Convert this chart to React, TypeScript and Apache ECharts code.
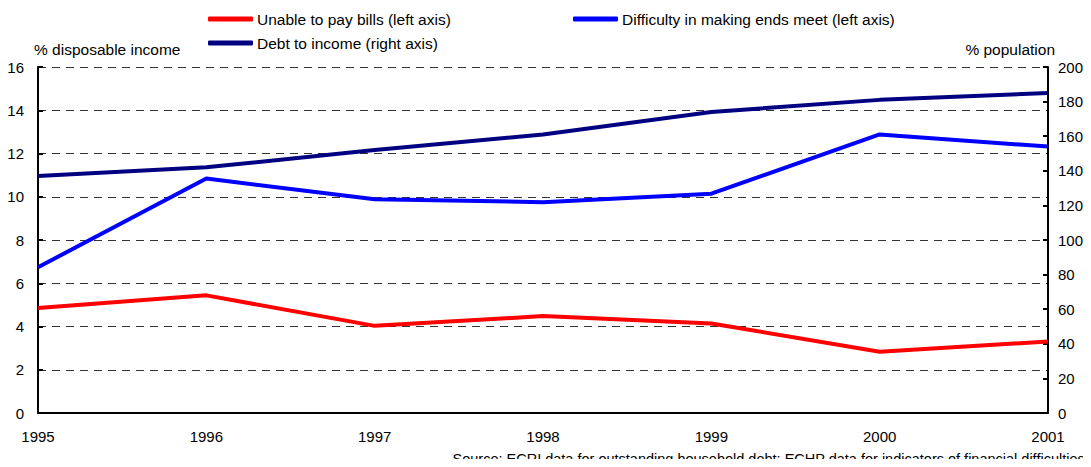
import React, { useEffect, useRef } from "react";
import * as echarts from "echarts";

const years = ["1995", "1996", "1997", "1998", "1999", "2000", "2001"];
const unablePayBills = [4.86, 5.44, 4.03, 4.48, 4.14, 2.83, 3.31];
const difficultyEndsMeet = [6.74, 10.84, 9.88, 9.75, 10.14, 12.88, 12.32];
const debtToIncome = [137, 142, 152, 161, 174, 181, 185];

const FONT = "'Liberation Sans', Arial, sans-serif";

export default function App() {
  const ref = useRef<HTMLDivElement>(null);
  useEffect(() => {
    if (!ref.current) return;
    const chart = echarts.init(ref.current, null, { renderer: "svg" });
    const legendBase = {
      icon: "roundRect",
      itemWidth: 45,
      itemHeight: 5,
      itemGap: 4,
      padding: 0,
      textStyle: { fontFamily: FONT, fontSize: 15.5, color: "#000", padding: [0, 0, 0, -1] },
      selectedMode: false,
    };
    chart.setOption({
      animation: false,
      textStyle: { fontFamily: FONT },
      grid: { left: 38, right: 43, top: 67, bottom: 54, containLabel: false },
      legend: [
        { ...legendBase, data: ["Unable to pay bills (left axis)"], left: 208, top: 11 },
        { ...legendBase, data: ["Difficulty in making ends meet (left axis)"], left: 573, top: 11 },
        { ...legendBase, data: ["Debt to income (right axis)"], left: 208, top: 35 },
      ],
      xAxis: {
        type: "category",
        data: years,
        boundaryGap: false,
        axisLine: { lineStyle: { color: "#000", width: 2 } },
        axisTick: { show: false },
        axisLabel: { color: "#000", fontSize: 15, margin: 16, fontFamily: FONT },
        splitLine: { show: false },
      },
      yAxis: [
        {
          type: "value",
          min: 0,
          max: 16,
          interval: 2,
          position: "left",
          name: "% disposable income",
          nameLocation: "end",
          nameGap: 10,
          nameTextStyle: { color: "#000", fontSize: 15.5, align: "left", padding: [0, 0, 0, -4], fontFamily: FONT },
          axisLine: { show: true, lineStyle: { color: "#000", width: 2 } },
          axisTick: { show: true, inside: true, length: 5, lineStyle: { color: "#000", width: 2 } },
          axisLabel: { color: "#000", fontSize: 15, margin: 14, fontFamily: FONT },
          splitLine: { show: true, lineStyle: { color: "#333", width: 1, type: [8, 6] } },
        },
        {
          type: "value",
          min: 0,
          max: 200,
          interval: 20,
          position: "right",
          name: "% population",
          nameLocation: "end",
          nameGap: 10,
          nameTextStyle: { color: "#000", fontSize: 15.5, align: "right", padding: [0, -7, 0, 0], fontFamily: FONT },
          axisLine: { show: true, lineStyle: { color: "#000", width: 2 } },
          axisTick: { show: true, inside: true, length: 5, lineStyle: { color: "#000", width: 2 } },
          axisLabel: { color: "#000", fontSize: 15, margin: 10, fontFamily: FONT },
          splitLine: { show: false },
        },
      ],
      series: [
        {
          name: "Unable to pay bills (left axis)",
          type: "line",
          yAxisIndex: 0,
          data: unablePayBills,
          symbol: "none",
          lineStyle: { color: "#ff0000", width: 4 },
          itemStyle: { color: "#ff0000" },
        },
        {
          name: "Difficulty in making ends meet (left axis)",
          type: "line",
          yAxisIndex: 0,
          data: difficultyEndsMeet,
          symbol: "none",
          lineStyle: { color: "#0000ff", width: 4 },
          itemStyle: { color: "#0000ff" },
        },
        {
          name: "Debt to income (right axis)",
          type: "line",
          yAxisIndex: 1,
          data: debtToIncome,
          symbol: "none",
          lineStyle: { color: "#000080", width: 4 },
          itemStyle: { color: "#000080" },
        },
      ],
      graphic: [
        {
          type: "text",
          right: 6,
          top: 451,
          style: {
            text: "Source: ECRI data for outstanding household debt; ECHP data for indicators of financial difficulties",
            fontFamily: FONT,
            fontSize: 14.5,
            fill: "#000",
          },
        },
      ],
    });
    return () => chart.dispose();
  }, []);
  return <div ref={ref} style={{ width: 1091, height: 467, margin: -8 }} />;
}
